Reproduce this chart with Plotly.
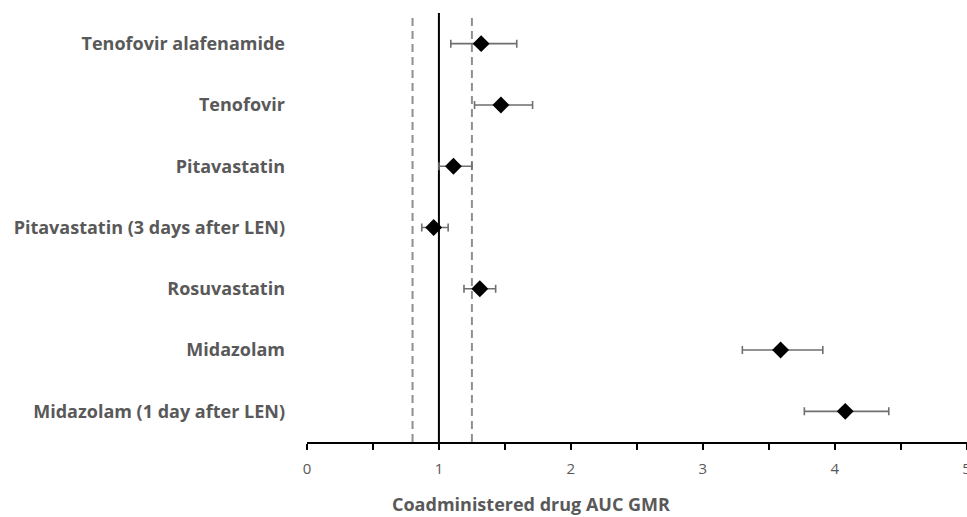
import plotly.graph_objects as go

drugs = [
    "Tenofovir alafenamide",
    "Tenofovir",
    "Pitavastatin",
    "Pitavastatin (3 days after LEN)",
    "Rosuvastatin",
    "Midazolam",
    "Midazolam (1 day after LEN)",
]
gmr = [1.32, 1.47, 1.11, 0.96, 1.31, 3.59, 4.08]
ci_low = [1.09, 1.27, 1.00, 0.87, 1.19, 3.30, 3.77]
ci_high = [1.59, 1.71, 1.25, 1.07, 1.43, 3.91, 4.41]
bounds = [0.8, 1.25]
unity = 1.0
x_ticks = [0, 1, 2, 3, 4, 5]

err_plus = [h - g for h, g in zip(ci_high, gmr)]
err_minus = [g - l for g, l in zip(gmr, ci_low)]

FONT = "'Open Sans', sans-serif"

fig = go.Figure()
fig.add_trace(go.Scatter(
    x=gmr, y=drugs, mode="markers",
    marker=dict(symbol="diamond", size=13, color="black"),
    error_x=dict(type="data", symmetric=False, array=err_plus, arrayminus=err_minus,
                 color="#6f6f6f", thickness=1.6, width=4),
    showlegend=False,
))

for b in bounds:
    fig.add_shape(type="line", x0=b, x1=b, y0=0, y1=1, xref="x", yref="paper",
                  line=dict(color="#8f8f8f", width=2, dash="8px,5px"), layer="below")
fig.add_shape(type="line", x0=unity, x1=unity, y0=0, y1=1, xref="x", yref="paper",
              line=dict(color="black", width=2), layer="below")

fig.add_annotation(
    text="<b>Coadministered drug AUC GMR</b>", xref="paper", yref="paper",
    x=0.34, y=0, yshift=-62, xanchor="center", yanchor="middle", showarrow=False,
    font=dict(family=FONT, size=18, color="#595959"),
)

fig.update_layout(
    width=967, height=517,
    margin=dict(l=307, r=0, t=13, b=75),
    paper_bgcolor="white", plot_bgcolor="white",
    font=dict(family=FONT, color="#595959"),
    xaxis=dict(
        range=[0, 5.003], tickvals=x_ticks, showgrid=False, zeroline=False, automargin=False,
        showline=True, linecolor="black", linewidth=2,
        ticks="outside", ticklen=6, tickwidth=2, tickcolor="black",
        minor=dict(dtick=0.5, ticks="outside", ticklen=6, tickwidth=2, tickcolor="black", showgrid=False),
        tickfont=dict(family=FONT, size=15, color="#595959"),
        ticklabelstandoff=6, ticklabeloverflow="allow",
    ),
    yaxis=dict(
        categoryorder="array", categoryarray=drugs, automargin=False,
        range=[6.5, -0.5], autorange=False, showgrid=False, zeroline=False, showline=False,
        ticks="", ticklabelstandoff=21,
        tickfont=dict(family=FONT, size=18, color="#595959", weight="bold"),
    ),
)

fig.write_html("out.html", config={"displayModeBar": False},
               post_script="document.body.style.margin='0';document.body.style.overflow='hidden';")
